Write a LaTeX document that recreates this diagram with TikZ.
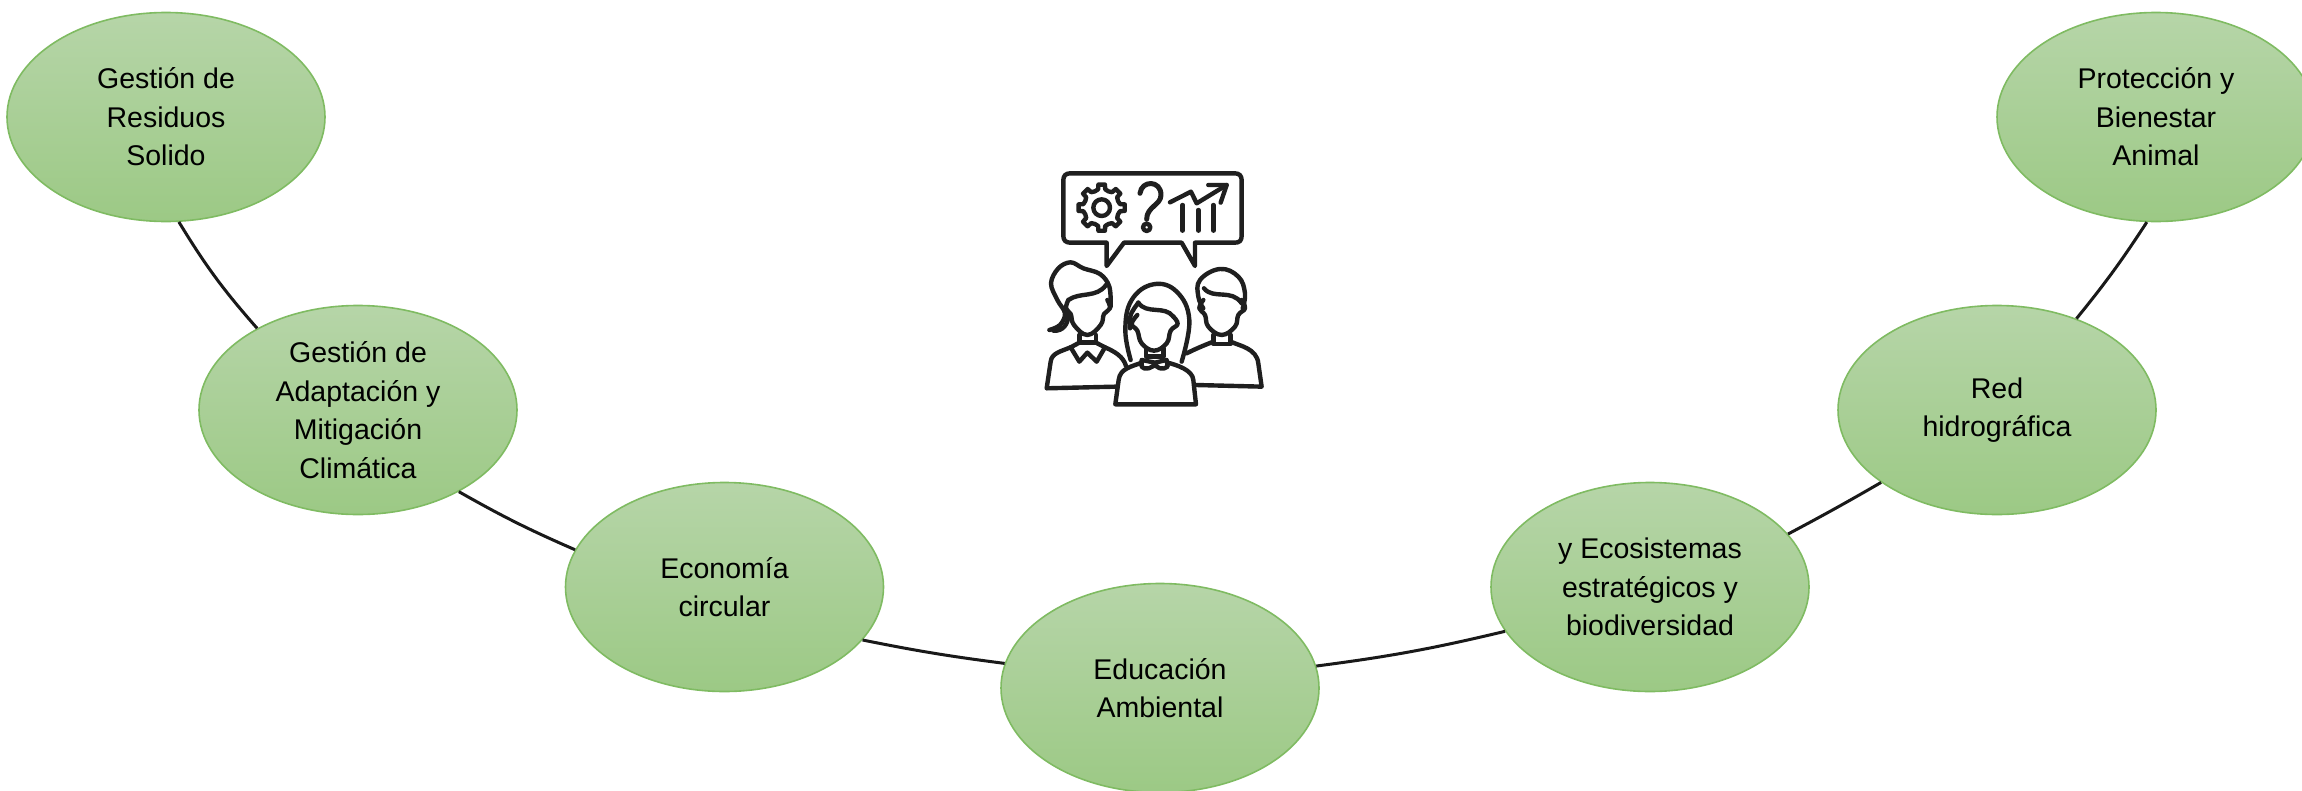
\documentclass[tikz,border=0pt]{standalone}
\usepackage{fontspec}
\setmainfont{Liberation Sans}
\usetikzlibrary{shapes.geometric}
\definecolor{ringtop}{HTML}{B6D5A8}
\definecolor{ringbot}{HTML}{9CC985}
\definecolor{ringedge}{HTML}{7FBB62}
\tikzset{
  topic/.style={ellipse,draw=ringedge,line width=1.6pt,top color=ringtop,bottom color=ringbot,
    minimum width=318pt,minimum height=209pt,inner sep=0pt,align=center,text=black,
    font=\fontsize{28.5pt}{38.6pt}\selectfont},
  link/.style={line width=3pt,draw=black!90},
  icon/.style={line width=4.4pt,draw=black!88,line join=round,line cap=round}
}
\begin{document}
\begin{tikzpicture}[x=1pt,y=-1pt]
\useasboundingbox (0,0) rectangle (2302,790);
\clip (0,0) rectangle (2302,790);
\node[topic] (a) at (166,117) {Gestión de\\Residuos\\Solido};
\node[topic] (b) at (358,410) {Gestión de\\Adaptación y\\Mitigación\\Climática};
\node[topic] (c) at (724.5,587) {Economía\\circular};
\node[topic] (d) at (1160,688) {Educación\\Ambiental};
\node[topic] (e) at (1650,587) {y Ecosistemas\\estratégicos y\\biodiversidad};
\node[topic] (f) at (1997,410) {Red\\hidrográfica};
\node[topic] (g) at (2156,117) {Protección y\\Bienestar\\Animal};
\draw[link] (a.-83.6) to[bend right=5] (b.141.2);
\draw[link] (b.-39.3) to[bend right=3] (c.166);
\draw[link] (c.-21) to[bend right=2] (d.171.5);
\draw[link] (d.8.6) to[bend right=3] (e.-163);
\draw[link] (e.21.5) to[bend right=1] (f.-148);
\draw[link] (f.49) to[bend right=3] (g.-95);
\begin{scope}[shift={(1000,140)},x=0.3333pt,y=-0.3333pt]
  % speech bubble
  \draw[icon] (210,100) -- (705,100) .. controls (718,100) and (725,108) .. (725,120)
    -- (725,288) .. controls (725,302) and (718,308) .. (705,308) -- (585,308) -- (585,378) -- (545,308)
    -- (372,308) -- (320,378) -- (320,308) -- (210,308)
    .. controls (197,308) and (190,300) .. (190,288) -- (190,120)
    .. controls (190,108) and (197,100) .. (210,100) -- cycle;
  % gear
  \draw[icon] (305,203) circle[radius=25];
  \draw[icon] ([shift={(305,203)}]-11:56)
    \foreach \t in {0,45,...,315} {
      -- ([shift={(305,203)}]\t-11:56) -- ([shift={(305,203)}]\t-8:70) -- ([shift={(305,203)}]\t+8:70) -- ([shift={(305,203)}]\t+11:56) -- ([shift={(305,203)}]\t+22.5:53)
    } -- cycle;
  % question mark
  \draw[icon,line width=5pt] (420,160) .. controls (425,120) and (483,120) .. (483,165)
    .. controls (483,195) and (440,200) .. (440,238);
  \draw[icon] (440,262) circle[radius=11];
  % chart
  \draw[icon] (510,187) -- (573,155) -- (590,190) -- (680,135);
  \draw[icon] (625,135) -- (680,135) -- (662,188);
  \draw[icon] (548,195) -- (548,272);
  \draw[icon] (595,210) -- (595,272);
  \draw[icon] (640,195) -- (640,272);
  % left woman
  \draw[icon] plot[smooth,tension=0.6] coordinates {(148,570) (180,555) (195,520) (172,480) (153,430) (175,385) (212,367) (250,385) (300,402) (328,440) (332,500)};
  \draw[icon] (160,572) .. controls (190,575) and (205,550) .. (205,525);
  \draw[icon] (205,480) .. controls (240,455) and (290,475) .. (318,435);
  \draw[icon] plot[smooth,tension=0.7] coordinates {(205,480) (198,505) (212,522) (222,555) (262,585) (302,555) (312,522) (330,505) (322,480)};
  \draw[icon] (238,585) -- (238,608) -- (288,608) -- (288,585);
  \draw[icon] (212,622) -- (238,665) -- (262,638) -- (290,665) -- (315,622) -- (288,608);
  \draw[icon] (238,608) -- (212,622);
  \draw[icon] (212,622) .. controls (180,635) and (155,640) .. (152,665) -- (140,745) -- (350,740);
  \draw[icon] (315,622) .. controls (345,635) and (370,650) .. (378,678);
  % right man
  \draw[icon] plot[smooth,tension=0.7] coordinates {(610,505) (595,470) (600,420) (660,387) (715,410) (735,460) (728,505)};
  \draw[icon] (612,445) .. controls (640,480) and (695,445) .. (725,490);
  \draw[icon] plot[smooth,tension=0.7] coordinates {(610,480) (598,505) (615,525) (625,560) (665,585) (705,560) (715,525) (735,505) (725,480)};
  \draw[icon] (640,585) -- (640,612) -- (692,612) -- (692,585);
  \draw[icon] (560,640) .. controls (590,625) and (615,615) .. (640,605);
  \draw[icon] (692,605) .. controls (720,618) and (770,625) .. (775,670) -- (785,740) -- (585,735);
  % middle woman
  \draw[icon] plot[smooth,tension=0.7] coordinates {(392,660) (376,570) (395,480) (460,433) (530,455) (568,540) (545,665)};
  \draw[icon] (415,488) .. controls (400,510) and (385,520) .. (390,565);
  \draw[icon] (415,488) .. controls (440,525) and (495,495) .. (520,530);
  \draw[icon] plot[smooth,tension=0.7] coordinates {(412,525) (395,552) (412,572) (425,610) (462,632) (500,610) (512,572) (533,552) (520,530)};
  \draw[icon] (438,625) -- (438,650) -- (490,650) -- (490,625);
  \draw[icon] (425,660) -- (465,668) -- (500,660) -- (503,680) .. controls (490,692) and (465,685) .. (465,668)
     .. controls (465,685) and (430,692) .. (425,680) -- cycle;
  \draw[icon] (425,668) .. controls (395,680) and (360,685) .. (356,720) -- (346,793) -- (588,793) -- (580,720)
     .. controls (578,690) and (530,675) .. (503,668);
\end{scope}
\end{tikzpicture}
\end{document}
